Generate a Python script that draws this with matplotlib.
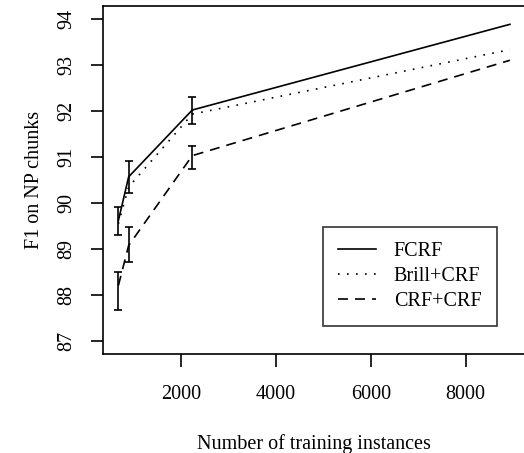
import matplotlib
matplotlib.use('Agg')
import matplotlib.pyplot as plt

plt.rcParams['font.family'] = ['Liberation Serif', 'DejaVu Serif']
plt.rcParams['font.size'] = 14.5

# training set sizes
sizes = [670, 887, 2230, 8936]

fcrf = [89.62, 90.57, 92.02, 93.88]
fcrf_lo = [89.30, 90.23, 91.72, None]
fcrf_hi = [89.91, 90.91, 92.30, None]

brill = [89.55, 90.35, 91.93, 93.33]

crfcrf = [88.21, 89.08, 91.03, 93.10]
crf_lo = [87.68, 88.72, 90.73, None]
crf_hi = [88.50, 89.48, 91.25, None]

yticks = [87, 88, 89, 90, 91, 92, 93, 94]
xticks = [2000, 4000, 6000, 8000]

fig = plt.figure(figsize=(5.24, 4.53), dpi=100)
ax = fig.add_axes([0.196, 0.218, 0.807, 0.769])

lw = 1.2
ax.plot(sizes, fcrf, color='black', lw=lw, label='FCRF')
ax.plot(sizes, brill, color='black', lw=lw, dashes=(1, 4.4), label='Brill+CRF')
ax.plot(sizes, crfcrf, color='black', lw=lw, dashes=(6, 4.2), label='CRF+CRF')


def bars(lo, hi):
    xs = [x for x, l in zip(sizes, lo) if l is not None]
    los = [l for l in lo if l is not None]
    his = [h for h in hi if h is not None]
    mid = [(a + b) / 2 for a, b in zip(los, his)]
    err = [[m - a for m, a in zip(mid, los)], [b - m for m, b in zip(mid, his)]]
    ax.errorbar(xs, mid, yerr=err, fmt='none', ecolor='black',
                elinewidth=lw, capsize=3, capthick=lw)


bars(fcrf_lo, fcrf_hi)
bars(crf_lo, crf_hi)

# R style 4% extension
xr = sizes[-1] - sizes[0]
ax.set_xlim(sizes[0] - 0.04 * xr, sizes[-1] + 0.04 * xr)
ax.set_ylim(87 - 0.28, 94 + 0.28)

ax.set_xticks(xticks)
ax.set_xticklabels([str(t) for t in xticks])
ax.set_yticks(yticks)
ax.set_yticklabels([str(t) for t in yticks], rotation=90, va='center')
ax.tick_params(length=9, width=lw, pad=13.5)
ax.tick_params(axis='y', pad=10)

for s in ax.spines.values():
    s.set_linewidth(lw)

ax.set_xlabel('Number of training instances', labelpad=21)
ax.set_ylabel('F1 on NP chunks', labelpad=9.5)

leg = ax.legend(loc='upper left', bbox_to_anchor=(323 / 524, 1 - 226.7 / 453),
                bbox_transform=fig.transFigure, frameon=True, fancybox=False,
                edgecolor='black', handlelength=1.87, handletextpad=0.9,
                labelspacing=0.3, borderpad=0.75, borderaxespad=0,
                handleheight=0.6)
leg.get_frame().set_linewidth(lw)

fig.savefig('out.png', dpi=100)
